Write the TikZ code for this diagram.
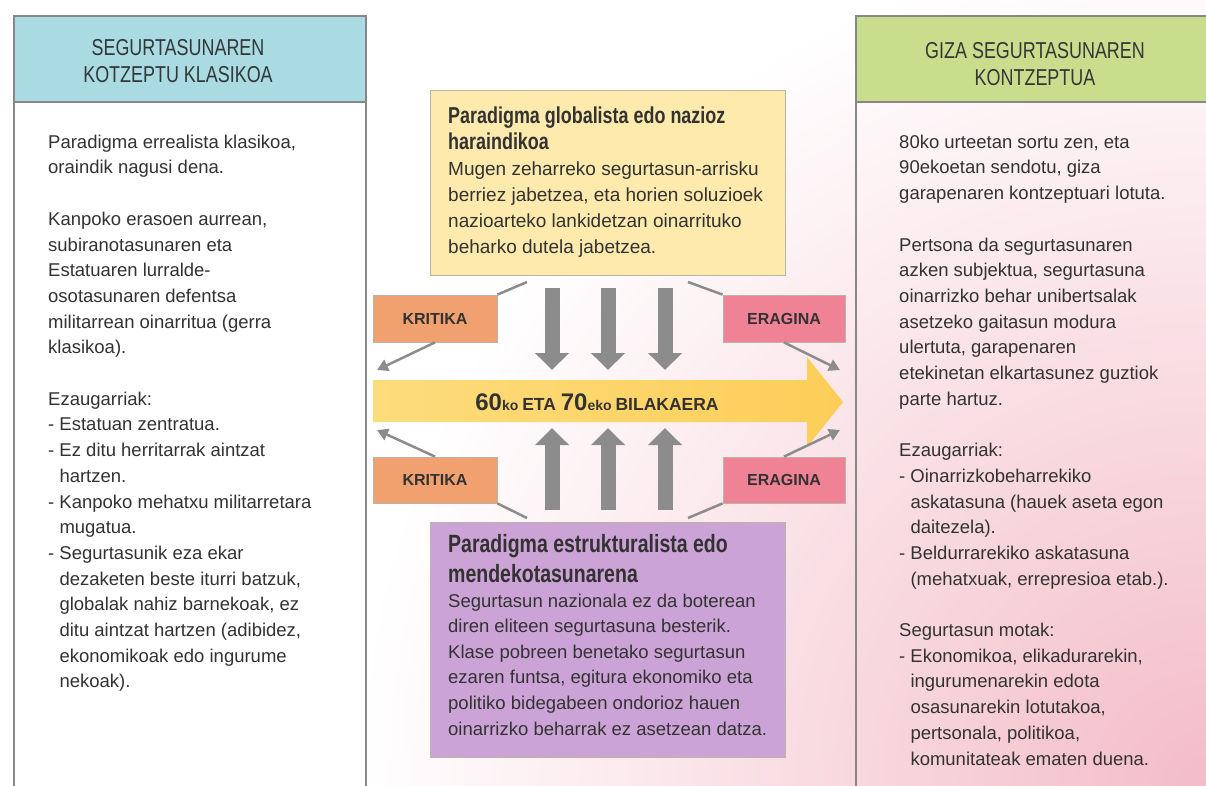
\documentclass[tikz,border=0pt]{standalone}
\usepackage{fontspec}
\setmainfont{Liberation Sans}
\newfontfamily\narrowfont{Liberation Sans}[FakeStretch=0.78]
\usetikzlibrary{arrows.meta}
\definecolor{leftHead}{RGB}{170,219,226}
\definecolor{rightHead}{RGB}{201,222,141}
\definecolor{yellowbox}{RGB}{253,234,172}
\definecolor{purplebox}{RGB}{204,163,214}
\definecolor{orangetag}{RGB}{241,160,112}
\definecolor{pinktag}{RGB}{240,130,150}
\definecolor{bannerL}{RGB}{253,220,125}
\definecolor{bannerR}{RGB}{252,206,88}
\definecolor{arrowgray}{RGB}{140,140,140}
\definecolor{panelgray}{RGB}{135,135,135}
\definecolor{boxgray}{RGB}{185,180,170}
\definecolor{pinkbg}{RGB}{243,188,200}
\definecolor{txt}{RGB}{50,50,50}
\definecolor{headtxt}{RGB}{50,55,55}
\newcommand{\ind}{\hphantom{- }}
\begin{document}
\begin{tikzpicture}[x=1pt,y=-1pt,
  panelline/.style={draw=panelgray, line width=2pt},
  headtext/.style={align=center, font=\narrowfont\fontsize{23}{27}\selectfont, text=headtxt, inner sep=0},
  bodytext/.style={anchor=north west, inner sep=0, align=left, font=\fontsize{18.5}{25.7}\selectfont, text=txt},
  titletext/.style={anchor=north west, inner sep=0, align=left, text=txt},
  infobox/.style={draw=boxgray, line width=0.8pt, minimum width=355pt, minimum height=185pt, inner sep=0},
  tagbox/.style={draw=boxgray, line width=0.8pt, minimum width=124pt, minimum height=47pt, inner sep=0, font=\bfseries\fontsize{16}{16}\selectfont, text=txt},
  bigarrow/.style={draw=arrowgray, line width=15pt, -{Triangle[width=33pt,length=17pt]}},
  thinline/.style={draw=arrowgray, line width=2.5pt},
  thinarrow/.style={thinline, -{Triangle[width=12pt,length=11pt]}},
]
\useasboundingbox (0,0) rectangle (1206,785);
\begin{scope}
\clip (0,0) rectangle (1206,785);
\fill[white] (0,0) rectangle (1206,785);
\shade[inner color=pinkbg, outer color=white] (1206,785) circle (850);
% left panel
\fill[white] (14,16) rectangle (366,800);
\fill[leftHead] (14,16) rectangle (366,102);
\draw[panelline] (14,800) -- (14,16) -- (366,16) -- (366,800);
\draw[panelline] (14,102) -- (366,102);
% right panel
\fill[rightHead] (856,16) rectangle (1215,102);
\draw[panelline] (856,800) -- (856,16) -- (1215,16);
\draw[panelline] (856,102) -- (1215,102);
\end{scope}

\node[headtext] (lht) at (178,61) {SEGURTASUNAREN\\KOTZEPTU KLASIKOA};
\node[headtext] (rht) at (1035,64) {GIZA SEGURTASUNAREN\\KONTZEPTUA};

\node[bodytext] (ltext) at (48,130) {\strut Paradigma errealista klasikoa,\\
oraindik nagusi dena.\\[25.7pt]
Kanpoko erasoen aurrean,\\
subiranotasunaren eta\\
Estatuaren lurralde-\\
osotasunaren defentsa\\
militarrean oinarritua (gerra\\
klasikoa).\\[25.7pt]
Ezaugarriak:\\
- Estatuan zentratua.\\
- Ez ditu herritarrak aintzat\\
\ind hartzen.\\
- Kanpoko mehatxu militarretara\\
\ind mugatua.\\
- Segurtasunik eza ekar\\
\ind dezaketen beste iturri batzuk,\\
\ind globalak nahiz barnekoak, ez\\
\ind ditu aintzat hartzen (adibidez,\\
\ind ekonomikoak edo ingurume\\
\ind nekoak).};

\node[bodytext] (rtext) at (899,130) {\strut 80ko urteetan sortu zen, eta\\
90ekoetan sendotu, giza\\
garapenaren kontzeptuari lotuta.\\[25.7pt]
Pertsona da segurtasunaren\\
azken subjektua, segurtasuna\\
oinarrizko behar unibertsalak\\
asetzeko gaitasun modura\\
ulertuta, garapenaren\\
etekinetan elkartasunez guztiok\\
parte hartuz.\\[25.7pt]
Ezaugarriak:\\
- Oinarrizkobeharrekiko\\
\ind askatasuna (hauek aseta egon\\
\ind daitezela).\\
- Beldurrarekiko askatasuna\\
\ind (mehatxuak, errepresioa etab.).\\[25.7pt]
Segurtasun motak:\\
- Ekonomikoa, elikadurarekin,\\
\ind ingurumenarekin edota\\
\ind osasunarekin lotutakoa,\\
\ind pertsonala, politikoa,\\
\ind komunitateak ematen duena.};

% central boxes
\node[infobox, fill=yellowbox] (yel) at (607.5,182.5) {};
\node[infobox, fill=purplebox, minimum height=235pt] (pur) at (607.5,639.5) {};

\node[titletext, font=\narrowfont\bfseries\fontsize{23}{26}\selectfont] (yelt) at (448,105) {\strut Paradigma globalista edo nazioz\\haraindikoa};
\node[titletext, font=\fontsize{19}{26}\selectfont] (yelb) at (448,157) {\strut Mugen zeharreko segurtasun-arrisku\\
berriez jabetzea, eta horien soluzioek\\
nazioarteko lankidetzan oinarrituko\\
beharko dutela jabetzea.};

\node[titletext, font=\narrowfont\bfseries\fontsize{25}{30}\selectfont] (purt) at (448,531) {\strut Paradigma estrukturalista edo\\mendekotasunarena};
\node[titletext, font=\fontsize{18.5}{25.6}\selectfont] (purb) at (448,589) {\strut Segurtasun nazionala ez da boterean\\
diren eliteen segurtasuna besterik.\\
Klase pobreen benetako segurtasun\\
ezaren funtsa, egitura ekonomiko eta\\
politiko bidegabeen ondorioz hauen\\
oinarrizko beharrak ez asetzean datza.};

% banner
\shade[left color=bannerL, right color=bannerR] (373,380) -- (807,380) -- (807,357) -- (843,402) -- (807,447) -- (807,422) -- (373,422) -- cycle;
\node[text=txt, inner sep=0] (band) at (597,402) {\bfseries\fontsize{24}{24}\selectfont 60\fontsize{14}{14}\selectfont ko \fontsize{17.5}{17.5}\selectfont ETA \fontsize{24}{24}\selectfont 70\fontsize{14}{14}\selectfont eko \fontsize{17.5}{17.5}\selectfont BILAKAERA};

% tags
\node[tagbox, fill=orangetag] (krt) at (435,318.5) {KRITIKA};
\node[tagbox, fill=orangetag, minimum height=46pt] (krb) at (435,480) {KRITIKA};
\node[tagbox, fill=pinktag, minimum width=122pt] (ert) at (784,318.5) {ERAGINA};
\node[tagbox, fill=pinktag, minimum width=122pt, minimum height=46pt] (erb) at (784,480) {ERAGINA};

% big gray arrows
\foreach \x/\n in {552/1,608/2,665/3} {
  \coordinate (dns\n) at (\x,288); \coordinate (dne\n) at (\x,370);
  \draw[bigarrow] (dns\n) -- (dne\n);
  \coordinate (ups\n) at (\x,510); \coordinate (upe\n) at (\x,428);
  \draw[bigarrow] (ups\n) -- (upe\n);
}

% thin connectors
\coordinate (ka) at (527,282);
\draw[thinline] (ka) -- (krt.north east);
\coordinate (kt) at (377,370);
\draw[thinarrow] (krt.south) -- (kt);
\coordinate (ea) at (688,282);
\draw[thinline] (ea) -- (ert.north west);
\coordinate (et) at (840,370);
\draw[thinarrow] (ert.south) -- (et);
\coordinate (kbt) at (377,430);
\draw[thinarrow] (krb.north) -- (kbt);
\coordinate (kba) at (527,518);
\draw[thinline] (krb.south east) -- (kba);
\coordinate (ebt) at (840,430);
\draw[thinarrow] (erb.north) -- (ebt);
\coordinate (eba) at (688,518);
\draw[thinline] (erb.south west) -- (eba);
\end{tikzpicture}
\end{document}
